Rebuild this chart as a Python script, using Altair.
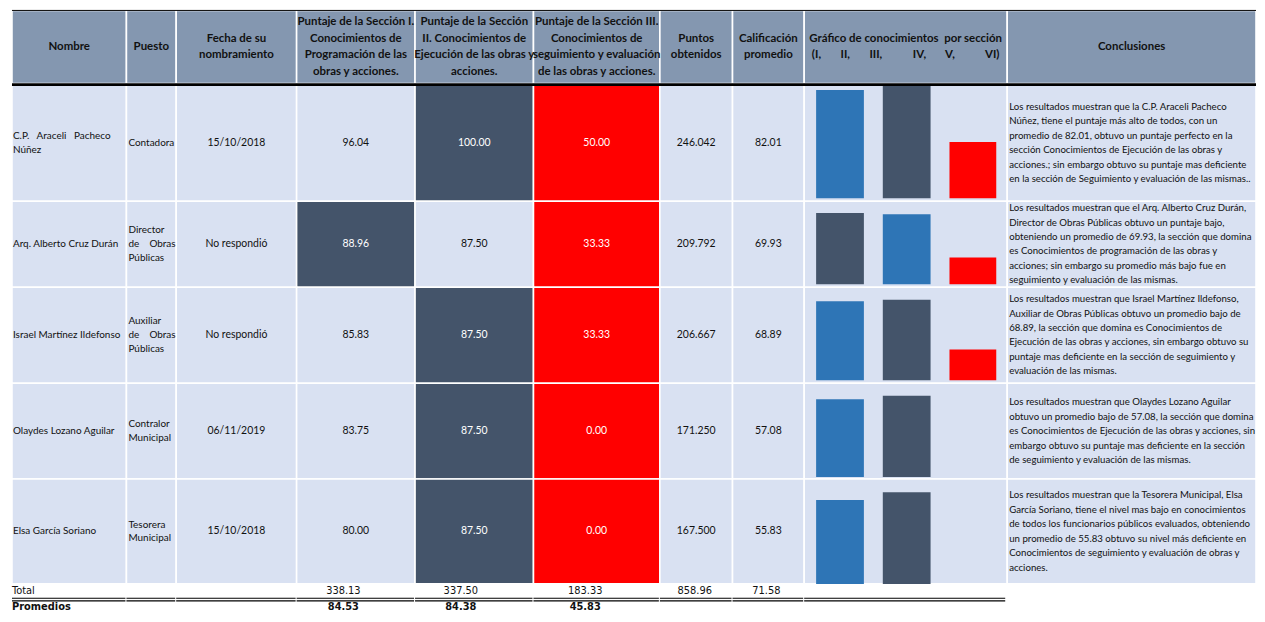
import altair as alt
import pandas as pd

# ---------------- data ----------------
NB = "\u00a0"
header_lines = [
    ["Nombre"],
    ["Puesto"],
    ["Fecha de su", "nombramiento"],
    ["Puntaje de la Sección I.", "Conocimientos de", "Programación de las", "obras y acciones."],
    ["Puntaje de la Sección", "II. Conocimientos de", "Ejecución de las obras y", "acciones."],
    ["Puntaje de la Sección III.", "Conocimientos de", "seguimiento y evaluación", "de las obras y acciones."],
    ["Puntos", "obtenidos"],
    ["Calificación", "promedio"],
    ["Gráfico de conocimientos" + NB + " por sección",
     "(I," + NB * 7 + "II," + NB * 7 + "III," + NB * 11 + "IV," + NB * 7 + "V," + NB * 11 + "VI)"],
    ["Conclusiones"],
]
name_lines = [
    ["C.P." + NB * 3 + "Araceli" + NB * 3 + "Pacheco", "Núñez"],
    ["Arq. Alberto Cruz Durán"],
    ["Israel Martínez Ildefonso"],
    ["Olaydes Lozano Aguilar"],
    ["Elsa García Soriano"],
]
puesto_lines = [
    ["Contadora"],
    ["Director", "de" + NB * 4 + "Obras", "Públicas"],
    ["Auxiliar", "de" + NB * 4 + "Obras", "Públicas"],
    ["Contralor", "Municipal"],
    ["Tesorera", "Municipal"],
]
fechas = ["15/10/2018", "No respondió", "No respondió", "06/11/2019", "15/10/2018"]
sec1 = [96.04, 88.96, 85.83, 83.75, 80.00]
sec2 = [100.00, 87.50, 87.50, 87.50, 87.50]
sec3 = [50.00, 33.33, 33.33, 0.00, 0.00]
puntos = [246.042, 209.792, 206.667, 171.250, 167.500]
calif = [82.01, 69.93, 68.89, 57.08, 55.83]
totals = [338.13, 337.50, 183.33, 858.96, 71.58]
promedios = [84.53, 84.38, 45.83]
conclusions = [
    ["Los resultados muestran que la C.P. Araceli Pacheco",
     "Núñez, tiene el puntaje más alto de todos, con un",
     "promedio de 82.01, obtuvo un puntaje perfecto en la",
     "sección Conocimientos de Ejecución de las obras y",
     "acciones.; sin embargo obtuvo su puntaje mas deficiente",
     "en la sección de Seguimiento y evaluación de las mismas.."],
    ["Los resultados muestran que el Arq. Alberto Cruz Durán,",
     "Director de Obras Públicas obtuvo un puntaje bajo,",
     "obteniendo un promedio de 69.93, la sección que domina",
     "es Conocimientos de programación de las obras y",
     "acciones; sin embargo su promedio más bajo fue en",
     "seguimiento y evaluación de las mismas."],
    ["Los resultados muestran que Israel Martínez Ildefonso,",
     "Auxiliar de Obras Públicas obtuvo un promedio bajo de",
     "68.89, la sección que domina es Conocimientos de",
     "Ejecución de las obras y acciones, sin embargo obtuvo su",
     "puntaje mas deficiente en la sección de seguimiento y",
     "evaluación de las mismas."],
    ["Los resultados muestran que Olaydes Lozano Aguilar",
     "obtuvo un promedio bajo de 57.08, la sección que domina",
     "es Conocimientos de Ejecución de las obras y acciones, sin",
     "embargo obtuvo su puntaje mas deficiente en la sección",
     "de seguimiento y evaluación de las mismas."],
    ["Los resultados muestran que la Tesorera Municipal, Elsa",
     "García Soriano, tiene el nivel mas bajo en conocimientos",
     "de todos los funcionarios públicos evaluados, obteniendo",
     "un promedio de 55.83 obtuvo su nivel más deficiente en",
     "Conocimientos de seguimiento y evaluación de obras y",
     "acciones."],
]

# ---------------- layout / style ----------------
COL = [12, 127, 177, 298, 417, 536, 663, 736, 808, 1012, 1262]
HEAD = (13, 87)
ROWS = [88, 206, 293, 390, 487, 593]
BAR_X = [(820, 868), (887, 935), (954, 1001)]
BAR_Y = [(203, 89), (290, 209), (387, 294), (485, 391), (593, 487)]
TOT_X = [345, 463, 588, 698, 770]
TOTAL_Y, PROM_Y = 600, 616
DOUBLE_Y = (607.5, 610.2)

HEAD_FILL = "#8497b0"
BODY_FILL = "#d9e1f2"
DARK = "#44546a"
RED = "#ff0000"
BLUE = "#2e75b6"
INK = "#111111"
FONT = "Lato"
NARROW = "Liberation Sans Narrow, DejaVu Sans Condensed, sans-serif"

W, H = 1255, 606
X0, X1 = 8, 1263
Y0, Y1 = 12, 622


def py(v):
    return (v - Y0) * H / (Y1 - Y0)


xs = alt.Scale(domain=[X0, X1], range=[0, W], nice=False, zero=False)
ys = alt.Scale(domain=[Y0, Y1], range=[0, H], nice=False, zero=False)

# ---------------- build tables ----------------
cells, texts_c, texts_l, bars = [], [], [], []

for c in range(10):
    cells.append(dict(x0=COL[c], x1=COL[c + 1], y0=HEAD[0], y1=HEAD[1], fill=HEAD_FILL))
    lines = header_lines[c]
    cx = (COL[c] + COL[c + 1]) / 2
    mid = (HEAD[0] + HEAD[1]) / 2
    for i, t in enumerate(lines):
        texts_c.append(dict(x=cx, y=mid + (i - (len(lines) - 1) / 2) * 17, t=t, tc=INK, kind="head"))

for r in range(5):
    top, bot = ROWS[r], ROWS[r + 1]
    mid = (top + bot) / 2
    secs = [sec1[r], sec2[r], sec3[r]]
    mx, mn = max(secs), min(secs)
    fills = [BODY_FILL] * 10
    tcs = [INK] * 10
    for j, v in enumerate(secs):
        if v == mx:
            fills[3 + j], tcs[3 + j] = DARK, "#ffffff"
        elif v == mn:
            fills[3 + j], tcs[3 + j] = RED, "#ffffff"
        bars.append(dict(row=r, x0=BAR_X[j][0], x1=BAR_X[j][1], value=v,
                         fill=DARK if v == mx else (RED if v == mn else BLUE)))
    for c in range(10):
        cells.append(dict(x0=COL[c], x1=COL[c + 1], y0=top, y1=bot, fill=fills[c]))
    for i, t in enumerate(name_lines[r]):
        texts_l.append(dict(x=COL[0] + 1, y=mid + (i - (len(name_lines[r]) - 1) / 2) * 14, t=t, kind="body"))
    for i, t in enumerate(puesto_lines[r]):
        texts_l.append(dict(x=COL[1] + 2, y=mid + (i - (len(puesto_lines[r]) - 1) / 2) * 14, t=t, kind="body"))
    for i, t in enumerate(conclusions[r]):
        texts_l.append(dict(x=COL[9] + 2, y=mid + (i - (len(conclusions[r]) - 1) / 2) * 14.6, t=t, kind="concl"))
    vals = [fechas[r], f"{sec1[r]:.2f}", f"{sec2[r]:.2f}", f"{sec3[r]:.2f}", f"{puntos[r]:.3f}", f"{calif[r]:.2f}"]
    for k, t in enumerate(vals):
        c = 2 + k
        texts_c.append(dict(x=(COL[c] + COL[c + 1]) / 2, y=mid, t=t, tc=tcs[c], kind="body"))

cells_df = pd.DataFrame(cells)
tc_df = pd.DataFrame(texts_c)
tl_df = pd.DataFrame(texts_l)
bars_df = pd.DataFrame(bars)

foot = [dict(x=COL[0], y=TOTAL_Y, t="Total", w="normal", a="left"),
        dict(x=COL[0], y=PROM_Y, t="Promedios", w="bold", a="left")]
for k, v in enumerate(totals):
    foot.append(dict(x=TOT_X[k], y=TOTAL_Y, t=f"{v:.2f}", w="normal", a="center"))
for k, v in enumerate(promedios):
    foot.append(dict(x=TOT_X[k], y=PROM_Y, t=f"{v:.2f}", w="bold", a="center"))
foot_df = pd.DataFrame(foot)

rules = [dict(x0=COL[0], x1=COL[-1], y=HEAD[0], w=1.0),
         dict(x0=COL[0], x1=COL[-1], y=HEAD[1] + 1, w=2.6)]
for c in range(9):
    x1 = COL[c + 1] - 1 if c < 8 else COL[c + 1] - 2
    for yy in DOUBLE_Y:
        rules.append(dict(x0=COL[c], x1=x1, y=yy, w=1.1))
rules_df = pd.DataFrame(rules)


def X(f):
    return alt.X(f, scale=xs, axis=None)


def Y(f):
    return alt.Y(f, scale=ys, axis=None)


layers = []
layers.append(alt.Chart(cells_df).mark_rect(stroke="#ffffff", strokeWidth=1.6).encode(
    x=X("x0:Q"), x2="x1:Q", y=Y("y0:Q"), y2="y1:Q", color=alt.Color("fill:N", scale=None)))

for r in range(5):
    bot, top = BAR_Y[r]
    bscale = alt.Scale(domain=[0, 100], range=[py(bot), py(top)], nice=False, zero=False)
    layers.append(alt.Chart(bars_df[bars_df.row == r]).mark_rect().encode(
        x=X("x0:Q"), x2="x1:Q",
        y=alt.Y("value:Q", scale=bscale, axis=None), y2=alt.datum(0),
        color=alt.Color("fill:N", scale=None)))

layers.append(alt.Chart(rules_df).mark_rule(color="#000000").encode(
    x=X("x0:Q"), x2="x1:Q", y=Y("y:Q"), strokeWidth=alt.StrokeWidth("w:Q", scale=None)))

layers.append(alt.Chart(tc_df[tc_df.kind == "head"]).mark_text(
    font=FONT, fontSize=11.5, fontWeight="bold", align="center", baseline="middle").encode(
    x=X("x:Q"), y=Y("y:Q"), text="t:N", color=alt.Color("tc:N", scale=None)))
layers.append(alt.Chart(tc_df[tc_df.kind == "body"]).mark_text(
    font=FONT, fontSize=10.5, align="center", baseline="middle").encode(
    x=X("x:Q"), y=Y("y:Q"), text="t:N", color=alt.Color("tc:N", scale=None)))
layers.append(alt.Chart(tl_df[tl_df.kind == "body"]).mark_text(
    font=FONT, fontSize=10, align="left", baseline="middle", color=INK).encode(
    x=X("x:Q"), y=Y("y:Q"), text="t:N"))
layers.append(alt.Chart(tl_df[tl_df.kind == "concl"]).mark_text(
    font=FONT, fontSize=9.7, align="left", baseline="middle", color=INK).encode(
    x=X("x:Q"), y=Y("y:Q"), text="t:N"))

for w in ["normal", "bold"]:
    for a in ["left", "center"]:
        sub = foot_df[(foot_df.w == w) & (foot_df.a == a)]
        layers.append(alt.Chart(sub).mark_text(
            font=NARROW, fontSize=11, fontWeight=w, align=a, baseline="middle", color=INK).encode(
            x=X("x:Q"), y=Y("y:Q"), text="t:N"))

chart = alt.layer(*layers).resolve_scale(y="independent").properties(
    width=W, height=H, padding=0, autosize=alt.AutoSizeParams(type="none"),
    background="#ffffff"
).configure_view(strokeWidth=0)

chart.save("out.html", embed_options={"renderer": "svg", "actions": False})
